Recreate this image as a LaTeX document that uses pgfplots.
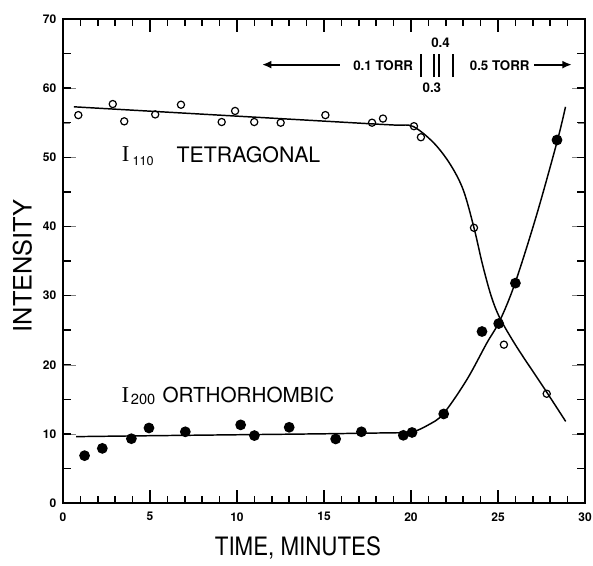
\documentclass[border=0pt]{standalone}
\usepackage{fontspec}
\setmainfont{TeX Gyre Heros}
\newfontfamily\seriffont{Liberation Serif}
\usepackage{pgfplots}
\usepackage{pgfplotstable}
\pgfplotsset{compat=1.18}
\usetikzlibrary{arrows.meta,calc}

\pgfplotstableread{
x y
0.88 56.1
2.86 57.7
3.52 55.2
5.30 56.2
6.78 57.6
9.12 55.1
9.89 56.7
10.99 55.1
12.51 55.0
15.08 56.1
17.76 55.0
18.39 55.6
20.17 54.5
20.57 52.9
23.62 39.8
25.34 22.9
27.80 15.8
}\tetra

\pgfplotstableread{
x y
1.24 6.85
2.26 7.9
3.93 9.3
4.94 10.85
7.03 10.3
10.21 11.3
11.00 9.75
13.00 10.95
15.67 9.26
17.15 10.3
19.56 9.79
20.06 10.2
21.88 12.88
24.08 24.8
25.04 25.95
26.00 31.8
28.39 52.5
}\ortho

\begin{document}
\begin{tikzpicture}
\begin{axis}[
  width=391.5pt, height=363pt, scale only axis,
  xmin=0, xmax=30, ymin=0, ymax=70,
  line width=1.4pt,
  xtick={0,5,...,30}, minor x tick num=4,
  ytick={0,10,...,70}, minor ytick={5,15,...,65},
  major tick length=9.5pt, minor tick length=5pt,
  /pgf/number format/assume math mode=true,
  ticklabel style={font=\bfseries\fontsize{9}{9}\selectfont},
  xticklabel style={yshift=-3pt},
  yticklabel style={xshift=-1pt},
]
% tetragonal fit curve
\addplot[black, line width=1.1pt, smooth, tension=0.55] coordinates {
(0.63,57.3) (5,56.67) (10,55.95) (15,55.23) (18,54.8) (19.2,54.64) (20.13,54.45)
(21.3,52.1) (22.25,49.0) (23.0,45.3) (23.62,39.8) (24.1,34.6) (24.6,30.0)
(25.1,26.8) (26.07,22.6) (27.6,16.8) (28.89,11.8)
};
% orthorhombic fit curve
\addplot[black, line width=1.1pt, smooth, tension=0.55] coordinates {
(0.75,9.6) (5,9.73) (10,9.87) (15,10.01) (18,10.12) (19.2,10.16) (20.04,10.22)
(21,11.3) (21.86,12.9) (23.2,17.8) (24.35,23.1) (25.11,26.4) (25.98,31.8)
(27.2,41.5) (28.4,52.3) (28.88,57.3)
};
\addplot[only marks, mark=o, mark size=2.7pt, mark options={line width=0.9pt, fill=white, draw=black}] table {\tetra};
\addplot[only marks, mark=*, mark size=3.3pt, mark options={fill=black, draw=black}] table {\ortho};

% pressure annotations
\draw[line width=1.5pt, -{Latex[length=7pt,width=6pt]}] (axis cs:15.9,63.4) -- (axis cs:11.44,63.4);
\node[font=\bfseries\fontsize{10}{10}\selectfont] at (axis cs:18.4,63.3) {0.1 TORR};
\draw[line width=1.5pt] (axis cs:20.56,61.6) -- (axis cs:20.56,65.0);
\draw[line width=1.5pt] (axis cs:21.34,61.6) -- (axis cs:21.34,65.0);
\draw[line width=1.5pt] (axis cs:21.62,61.6) -- (axis cs:21.62,65.0);
\draw[line width=1.5pt] (axis cs:22.40,61.6) -- (axis cs:22.40,65.0);
\node[font=\bfseries\fontsize{10}{10}\selectfont] at (axis cs:21.7,66.6) {0.4};
\node[font=\bfseries\fontsize{10}{10}\selectfont] at (axis cs:21.2,60.0) {0.3};
\node[font=\bfseries\fontsize{10}{10}\selectfont] at (axis cs:25.1,63.3) {0.5 TORR};
\draw[line width=1.5pt, -{Latex[length=7pt,width=6pt]}] (axis cs:27.07,63.4) -- (axis cs:29.24,63.4);

% curve labels
\node[anchor=west, inner sep=0, font=\seriffont\fontsize{17}{17}\selectfont] at (axis cs:3.33,50.4) {I};
\node[anchor=west, inner sep=0, font=\fontsize{9.5}{9.5}\selectfont] at (axis cs:3.95,49.4) {110};
\node[anchor=west, inner sep=0, font=\fontsize{16}{16}\selectfont] at (axis cs:6.48,50.4) {TETRAGONAL};
\node[anchor=west, inner sep=0, font=\seriffont\fontsize{17}{17}\selectfont] at (axis cs:3.31,15.6) {I};
\node[anchor=west, inner sep=0, font=\fontsize{11}{11}\selectfont] at (axis cs:3.85,15.0) {200};
\node[anchor=west, inner sep=0, font=\fontsize{15.5}{15.5}\selectfont] at (axis cs:5.67,15.6) {ORTHORHOMBIC};
\end{axis}
\coordinate (SW) at (current axis.south west);
\coordinate (NE) at (current axis.north east);
\coordinate (SE) at (current axis.south east);
\coordinate (NW) at (current axis.north west);
% inward tick marks
\foreach \i in {1,...,29}{
  \pgfmathsetmacro\len{mod(\i,5)==0 ? 9.5 : 5}
  \draw[line width=1.1pt, black] ($(SW)!\i/30!(SE)$) -- ++(0,\len pt);
  \draw[line width=1.1pt, black] ($(NW)!\i/30!(NE)$) -- ++(0,-\len pt);
}
\foreach \j in {1,...,13}{
  \draw[line width=1.1pt, black] ($(SW)!\j/14!(NW)$) -- ++(6pt,0);
  \draw[line width=1.1pt, black] ($(SE)!\j/14!(NE)$) -- ++(-6pt,0);
}
\node[rotate=90, font=\fontsize{19}{19}\selectfont] at ($(SW)!0.49!(SW|-NE) + (-30.4pt,0)$) {INTENSITY};
\node[font=\fontsize{19}{19}\selectfont] at ($(SW)!0.45!(SW-|NE) + (0,-34pt)$) {\scalebox{0.88}[1]{TIME, MINUTES}};
\pgfresetboundingbox
\path ($(SW)+(-47.25pt,-46.5pt)$) rectangle ($(NE)+(6pt,14.25pt)$);
\end{tikzpicture}
\end{document}
